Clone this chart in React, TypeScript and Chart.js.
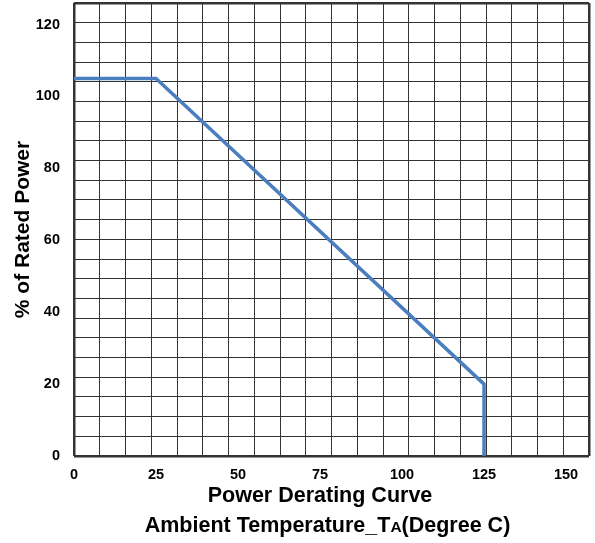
import { useEffect, useRef } from 'react';
import { Chart, registerables } from 'chart.js';

Chart.register(...registerables);

// derating curve
const ambientTemp = [0, 25, 125, 125];
const ratedPower = [105, 105, 20, 0];
const xTickLabels = [0, 25, 50, 75, 100, 125, 150];
const yTickLabels = [0, 20, 40, 60, 80, 100, 120];

const FONT = "'Liberation Sans', Arial, Helvetica, sans-serif";

const App = () => {
  const chartRef = useRef<HTMLCanvasElement | null>(null);
  const chartInstance = useRef<Chart | null>(null);

  useEffect(() => {
    if (chartInstance.current) {
      chartInstance.current.destroy();
    }
    const ctx = chartRef.current?.getContext('2d');
    if (!ctx) return;

    Chart.defaults.font.family = FONT;

    chartInstance.current = new Chart(ctx, {
      type: 'line',
      data: {
        datasets: [
          {
            label: '% of Rated Power',
            data: ambientTemp.map((t, i) => ({ x: t, y: ratedPower[i] })),
            borderColor: '#4a7ebf',
            borderWidth: 3.5,
            pointRadius: 0,
            fill: false,
            tension: 0,
            borderJoinStyle: 'miter',
            xAxisID: 'x',
            yAxisID: 'y',
          },
        ],
      },
      options: {
        animation: false,
        responsive: true,
        maintainAspectRatio: false,
        layout: { padding: { top: 3, right: 6, left: 0, bottom: 0 } },
        plugins: {
          legend: { display: false },
          tooltip: { enabled: false },
        },
        scales: {
          x: {
            type: 'linear',
            position: 'bottom',
            min: 0,
            max: 157,
            grid: { display: false, drawTicks: false },
            border: { display: false },
            ticks: {
              stepSize: 25,
              includeBounds: false,
              color: '#000',
              padding: 10,
              maxRotation: 0,
              font: { size: 14.5, weight: 'bold' },
              callback: (v) => (xTickLabels.includes(Number(v)) ? String(v) : ''),
            },
            afterFit: (s) => {
              s.height = 87;
              s.paddingLeft = 0;
              s.paddingRight = 0;
            },
          },
          xg: {
            type: 'linear',
            position: 'bottom',
            min: 0,
            max: 20,
            ticks: { display: false, stepSize: 1 },
            border: { display: false },
            grid: {
              drawTicks: false,
              color: '#333',
              lineWidth: (c) => (c.tick && (c.tick.value === 0 || c.tick.value === 20) ? 2.5 : 1),
            },
            afterFit: (s) => {
              s.height = 0;
              s.paddingLeft = 0;
              s.paddingRight = 0;
            },
          },
          y: {
            type: 'linear',
            position: 'left',
            min: 0,
            max: 126,
            grid: { display: false, drawTicks: false },
            border: { display: false },
            ticks: {
              stepSize: 20,
              includeBounds: false,
              color: '#000',
              padding: 14,
              font: { size: 14.5, weight: 'bold' },
              callback: (v) => (yTickLabels.includes(Number(v)) ? String(v) : ''),
            },
            title: {
              display: true,
              text: '% of Rated Power',
              color: '#000',
              font: { size: 21, weight: 'bold' },
              padding: { top: 11, bottom: 0 },
            },
            afterFit: (s) => {
              s.width = 74;
              s.paddingTop = 0;
              s.paddingBottom = 0;
            },
          },
          yg: {
            type: 'linear',
            position: 'left',
            min: 0,
            max: 23,
            ticks: { display: false, stepSize: 1 },
            border: { display: false },
            grid: {
              drawTicks: false,
              color: '#333',
              lineWidth: (c) => (c.tick && (c.tick.value === 0 || c.tick.value === 23) ? 2.5 : 1),
            },
            afterFit: (s) => {
              s.width = 0;
              s.paddingTop = 0;
              s.paddingBottom = 0;
            },
          },
        },
      },
    });

    return () => {
      if (chartInstance.current) {
        chartInstance.current.destroy();
        chartInstance.current = null;
      }
    };
  }, []);

  const titleStyle = {
    position: 'absolute' as const,
    width: 400,
    textAlign: 'center' as const,
    fontFamily: FONT,
    fontWeight: 'bold' as const,
    fontSize: 21.5,
    lineHeight: '24px',
    color: '#000',
    whiteSpace: 'nowrap' as const,
  };

  return (
    <div style={{ position: 'absolute', left: 0, top: 0, width: 595, height: 543, background: '#fff' }}>
      <div style={{ position: 'absolute', left: 0, top: 0, width: 595, height: 543 }}>
        <canvas ref={chartRef} />
      </div>
      <div style={{ ...titleStyle, left: 120, top: 482.5 }}>Power Derating Curve</div>
      <div style={{ ...titleStyle, left: 127.5, top: 512.5 }}>
        Ambient Temperature_T<span style={{ fontSize: '0.72em' }}>A</span>(Degree C)
      </div>
    </div>
  );
};

export default App;
